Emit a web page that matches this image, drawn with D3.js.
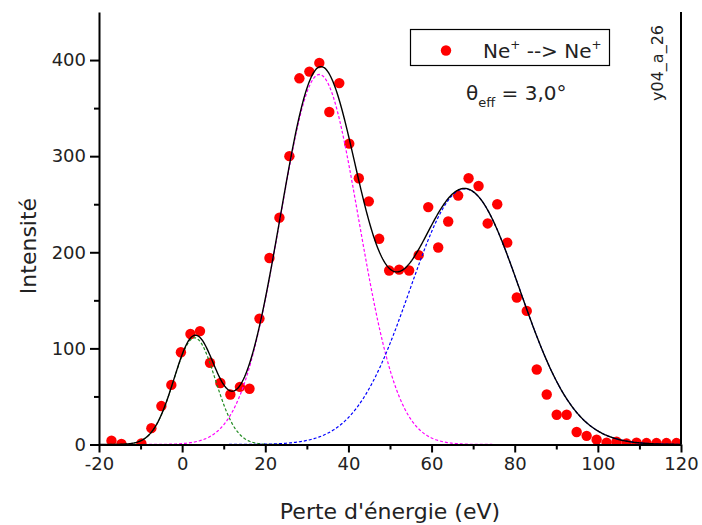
<!DOCTYPE html>
<html><head><meta charset="utf-8">
<script src="https://cdn.jsdelivr.net/npm/d3@7"></script>
<style>body{margin:0;background:#fff}svg{display:block}</style>
</head><body>
<svg id="c" width="702" height="525"></svg>
<script>
// Measured points (energy loss in eV, intensity)
const energy = [-17.0,-14.6,-9.8,-7.4,-5.0,-2.6,-0.3,2.0,4.3,6.7,9.2,11.6,13.9,16.2,18.6,21.0,23.4,25.8,28.2,30.6,33.0,35.4,37.8,40.2,42.5,44.9,47.4,49.8,52.2,54.6,56.9,59.2,61.6,64.0,66.4,68.9,71.3,73.5,75.8,78.2,80.5,82.9,85.3,87.7,90.1,92.5,94.9,97.3,99.7,102.1,104.5,106.9,109.3,111.7,114.1,116.5,118.9];
const intensity = [4,0.5,1,17,40,62,96,115,118,85,64,52,60,58,131,194,236,300,381,388,397,346,376,313,277,253,214,181,182,181,197,247,205,232,259,277,269,230,250,210,153,139,78,52,31,31,13,9,5,2,3,1,2,1.5,1.5,1.5,1.5];
// Gaussian fit components
const peakCenters = [3.0, 33.0, 68.0];
const peakSigmas = [5.0, 9.5, 13.2];
const peakHeights = [111, 385, 266];
const xTicks = [-20,0,20,40,60,80,100,120];
const xMinorTicks = [-10,10,30,50,70,90,110];
const yTicks = [0,100,200,300,400];
const yMinorTicks = [50,150,250,350];

const peakColors = ["#1f8a1f", "#ff00ff", "#0000ff"];
const font = "'DejaVu Sans', Verdana, sans-serif";

const svg = d3.select("#c");
const L = 99, R = 681, T = 12, B = 444.5;
const x = d3.scaleLinear().domain([-20,120]).range([L,R]);
const y = d3.scaleLinear().domain([0,450]).range([B,T]);

svg.append("defs").append("clipPath").attr("id","clip")
  .append("rect").attr("x",L).attr("y",T).attr("width",R-L).attr("height",B-T);

// points
const pts = energy.map((e,i)=>({e, v: intensity[i]}));
svg.append("g").attr("clip-path","url(#clip)").selectAll("circle").data(pts).join("circle")
  .attr("cx",d=>x(d.e)).attr("cy",d=>y(d.v)).attr("r",5.2).attr("fill","#ff0000");

// curves
const gauss = (xx,k)=>peakHeights[k]*Math.exp(-Math.pow(xx-peakCenters[k],2)/(2*peakSigmas[k]*peakSigmas[k]));
const xs = d3.range(-20,120.01,0.25);
const line = d3.line().x(d=>x(d[0])).y(d=>y(d[1]));
const cg = svg.append("g").attr("clip-path","url(#clip)");
peakCenters.forEach((c,k)=>{
  cg.append("path").datum(xs.map(v=>[v,gauss(v,k)]))
    .attr("d",line).attr("fill","none").attr("stroke",peakColors[k])
    .attr("stroke-width",1.2).attr("stroke-dasharray","3,2");
});
cg.append("path").datum(xs.map(v=>[v, peakCenters.reduce((s,c,k)=>s+gauss(v,k),0)]))
  .attr("d",line).attr("fill","none").attr("stroke","#000").attr("stroke-width",1.4);

// axes
const xa = svg.append("g").attr("transform",`translate(0,${B})`)
  .call(d3.axisBottom(x).tickValues(xTicks).tickSize(8).tickSizeOuter(0).tickPadding(5).tickFormat(d3.format("d")));
svg.append("g").attr("transform",`translate(0,${B})`)
  .call(d3.axisBottom(x).tickValues(xMinorTicks).tickSize(5).tickSizeOuter(0).tickFormat(""))
  .select(".domain").remove();
const ya = svg.append("g").attr("transform",`translate(${L},0)`)
  .call(d3.axisLeft(y).tickValues(yTicks).tickSize(9).tickSizeOuter(0).tickPadding(4));
svg.append("g").attr("transform",`translate(${L},0)`)
  .call(d3.axisLeft(y).tickValues(yMinorTicks).tickSize(5).tickSizeOuter(0).tickFormat(""))
  .select(".domain").remove();
svg.selectAll(".domain").attr("stroke","#000").attr("stroke-width",2);
svg.selectAll(".tick line").attr("stroke","#000").attr("stroke-width",2);
svg.selectAll(".tick text").attr("font-family",font).attr("font-size",18).attr("fill","#222");
xa.selectAll(".tick text").text(d=>d<0?"-"+Math.abs(d):d);
// right frame line
svg.append("line").attr("x1",R).attr("x2",R).attr("y1",T).attr("y2",B)
  .attr("stroke","#000").attr("stroke-width",2);

// axis titles
svg.append("text").attr("x",390).attr("y",519).attr("text-anchor","middle")
  .attr("font-family",font).attr("font-size",22).attr("fill","#222").text("Perte d'énergie (eV)");
svg.append("text").attr("transform","translate(36,246) rotate(-90)").attr("text-anchor","middle")
  .attr("font-family",font).attr("font-size",22).attr("fill","#222").text("Intensité");

// legend
svg.append("rect").attr("x",410.5).attr("y",29.5).attr("width",199).attr("height",36)
  .attr("fill","#fff").attr("stroke","#000").attr("stroke-width",1.2);
svg.append("circle").attr("cx",446).attr("cy",50.5).attr("r",5.2).attr("fill","#ff0000");
const lt = svg.append("text").attr("x",483).attr("y",58).attr("font-family",font).attr("font-size",20).attr("fill","#222");
lt.append("tspan").text("Ne");
lt.append("tspan").attr("font-size",12).attr("dy",-9).text("+");
lt.append("tspan").attr("dy",9).text(" --> Ne");
lt.append("tspan").attr("font-size",12).attr("dy",-9).text("+");

const th = svg.append("text").attr("x",466).attr("y",100).attr("font-family",font).attr("font-size",20).attr("fill","#222");
th.append("tspan").text("θ");
th.append("tspan").attr("font-size",13).attr("dy",7).text("eff");
th.append("tspan").attr("dy",-7).text(" = 3,0°");

svg.append("text").attr("transform","translate(663,63) rotate(-90)").attr("text-anchor","middle")
  .attr("font-family",font).attr("font-size",16).attr("fill","#222").text("y04_a_26");
</script>
</body></html>
